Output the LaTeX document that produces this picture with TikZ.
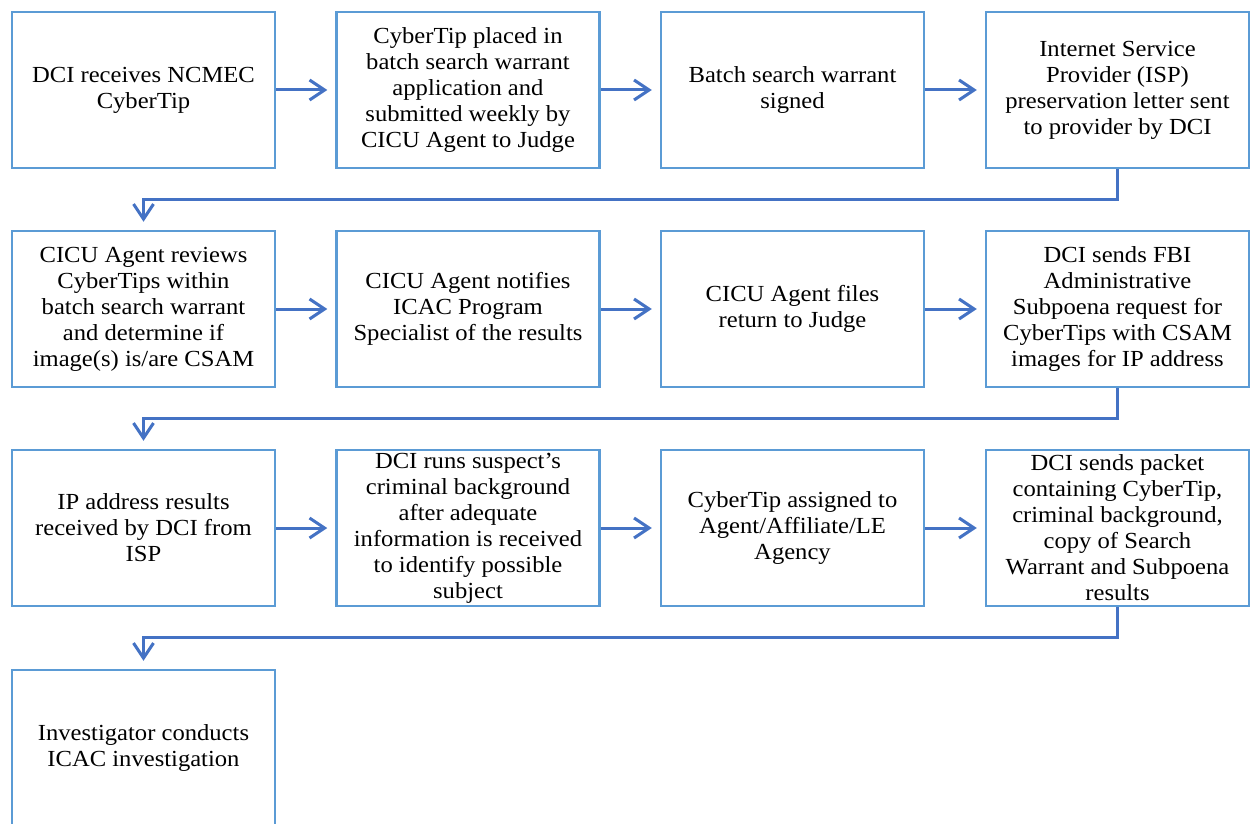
\documentclass[tikz,border=0pt]{standalone}
\usepackage{fontspec}
\setmainfont[FakeStretch=1.07]{Liberation Serif}
\usepackage{tikz}
\usetikzlibrary{arrows.meta}
\definecolor{boxblue}{HTML}{5B9BD5}
\definecolor{arrowblue}{HTML}{4472C4}

\begin{document}
\begin{tikzpicture}[x=1pt, y=-1pt, >={Straight Barb[length=15pt, width=20pt]},
        stepbox/.style={draw=boxblue, line width=2.5pt, minimum width=263pt, minimum height=156pt,
            align=center, inner sep=3pt, font=\fontsize{23}{26}\selectfont},
        flow/.style={->, draw=arrowblue, line width=3pt, shorten >=8pt}]
                \useasboundingbox (0,0) rectangle (1251,824);
                % Fila 1
                \node[stepbox] (b1) at (143.5,90) {DCI receives NCMEC\\CyberTip};
                \node[stepbox] (b2) at (468,90) {CyberTip placed in\\batch search warrant\\application and\\submitted weekly by\\CICU Agent to Judge};
                \node[stepbox] (b3) at (792.5,90) {Batch search warrant\\signed};
                \node[stepbox] (b4) at (1117.5,90) {Internet Service\\Provider (ISP)\\preservation letter sent\\to provider by DCI};
                % Fila 2
                \node[stepbox] (b5) at (143.5,309) {CICU Agent reviews\\CyberTips within\\batch search warrant\\and determine if\\image(s) is/are CSAM};
                \node[stepbox] (b6) at (468,309) {CICU Agent notifies\\ICAC Program\\Specialist of the results};
                \node[stepbox] (b7) at (792.5,309) {CICU Agent files\\return to Judge};
                \node[stepbox] (b8) at (1117.5,309) {DCI sends FBI\\Administrative\\Subpoena request for\\CyberTips with CSAM\\images for IP address};
                % Fila 3
                \node[stepbox] (b9) at (143.5,528) {IP address results\\received by DCI from\\ISP};
                \node[stepbox] (b10) at (468,528) {DCI runs suspect’s\\criminal background\\after adequate\\information is received\\to identify possible\\subject};
                \node[stepbox] (b11) at (792.5,528) {CyberTip assigned to\\Agent/Affiliate/LE\\Agency};
                \node[stepbox] (b12) at (1117.5,528) {DCI sends packet\\containing CyberTip,\\criminal background,\\copy of Search\\Warrant and Subpoena\\results};
                % Fila 4
                \node[stepbox] (b13) at (143.5,748) {Investigator conducts\\ICAC investigation};
                % Flechas
                \draw[flow] (b1) -- (b2);
                \draw[flow] (b2) -- (b3);
                \draw[flow] (b3) -- (b4);
                \draw[flow] (b4.south) -- ++(0,30) -| (b5.north);
                \draw[flow] (b5) -- (b6);
                \draw[flow] (b6) -- (b7);
                \draw[flow] (b7) -- (b8);
                \draw[flow] (b8.south) -- ++(0,30) -| (b9.north);
                \draw[flow] (b9) -- (b10);
                \draw[flow] (b10) -- (b11);
                \draw[flow] (b11) -- (b12);
                \draw[flow] (b12.south) -- ++(0,30) -| (b13.north);
            \end{tikzpicture}
\end{document}
